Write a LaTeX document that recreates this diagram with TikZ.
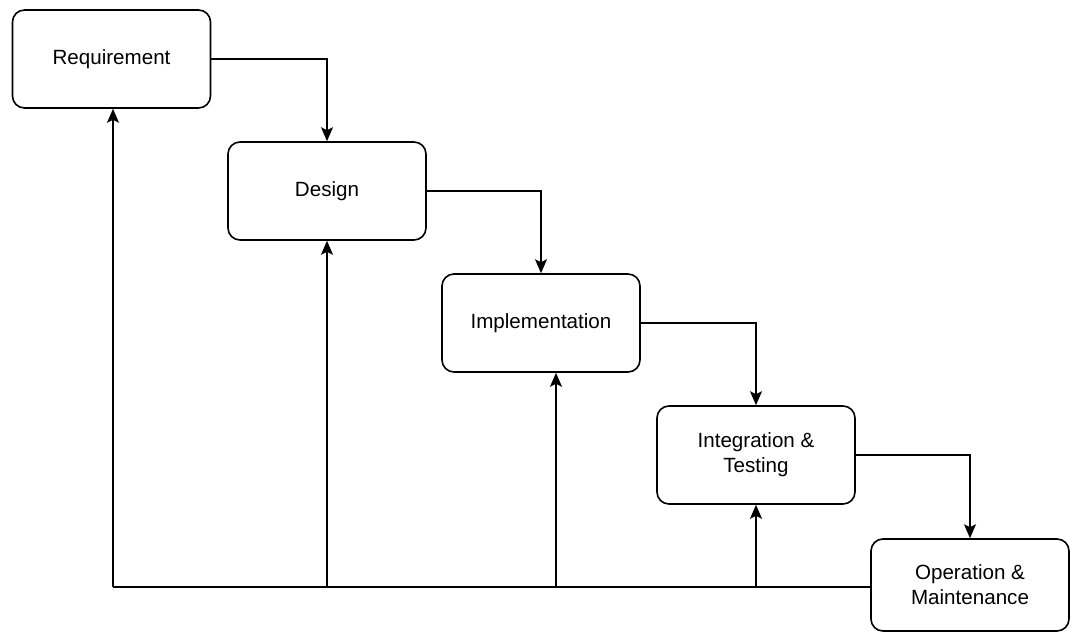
\documentclass[tikz,border=0pt]{standalone}
\usepackage{fontspec}
\setmainfont{Liberation Sans}
\usepackage{tikz}
\usetikzlibrary{arrows.meta}

\tikzset{
	phase/.style = {draw, rounded corners = 6pt, line width = 0.8pt, minimum width = 99pt, minimum height = 49pt, inner sep = 0pt, align = center, font = \fontsize{10.3}{12.5}\selectfont},
	flow/.style = {line width = 0.8pt, -{Stealth[length = 7pt, width = 6pt, inset = 1.5pt]}}
}

\begin{document}
\begin{tikzpicture}[x = 0.5pt, y = -0.5pt]
	\useasboundingbox (0,0) rectangle (1073,632);
	
	\node[phase] (req) at (111.5,59) {Requirement};
	\node[phase] (des) at (327,191) {Design};
	\node[phase] (impl) at (541,323) {Implementation};
	\node[phase] (integ) at (756,455) {Integration \&\\Testing};
	\node[phase, minimum height = 46pt] (oper) at (970,585) {Operation \&\\Maintenance};
	
	% downward flow
	\draw[flow] (req.east) -| (des.north);
	\draw[flow] (des.east) -| (impl.north);
	\draw[flow] (impl.east) -| (integ.north);
	\draw[flow] (integ.east) -| (oper.north);
	
	% feedback
	\coordinate (back) at (113,587);
	\draw[line width = 0.8pt] (oper.west |- back) -- (back);
	\draw[flow] (back) -- (back |- req.south);
	\draw[flow] (des.south |- back) -- (des.south);
	\draw[flow] ([xshift = 7.5pt]impl.south |- back) -- ([xshift = 7.5pt]impl.south);
	\draw[flow] (integ.south |- back) -- (integ.south);
	
\end{tikzpicture}
\end{document}
